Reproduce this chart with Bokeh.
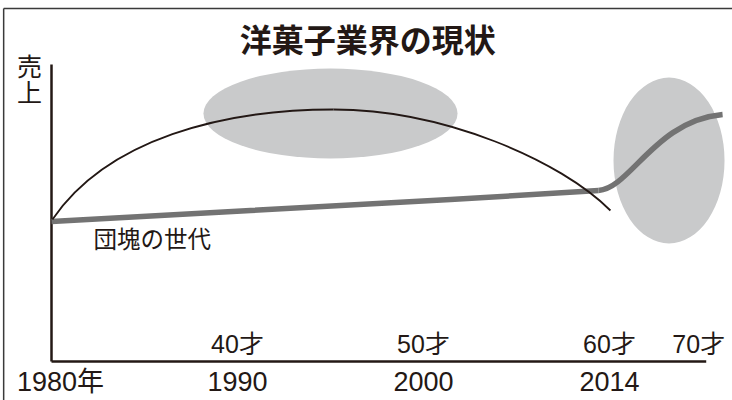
from bokeh.plotting import figure
from bokeh.models import Range1d
from bokeh.core.properties import value
from bokeh.embed import file_html
from bokeh.resources import INLINE

# ---- schematic data (x: timeline position, 1980=0 ... 2014=30; y: sales level) ----
title_text = "洋菓子業界の現状"
y_label_chars = ["売", "上"]

year_labels = ["1980年", "1990", "2000", "2014"]
year_pos = [0, 10, 20, 30]

age_labels = ["40才", "50才", "60才", "70才"]
age_pos = [10, 20, 30, 34.8]

# whole confectionery market (thin arc): two smooth segments, rise to peak then fall
market_start_x = [0.05, 15.16]
market_start_y = [14.2, 25.2]
market_end_x = [15.16, 30.05]
market_end_y = [25.2, 15.1]
market_c0_x = [3.01, 21.08]
market_c0_y = [22.28, 25.2]
market_c1_x = [9.25, 27.37]
market_c1_y = [25.2, 20.1]

# baby-boomer generation (thick gray line): slow growth, then sharp rise after 2014
boomer_x = [0.0, 10.7, 21.45, 29.41]
boomer_y = [14.0, 15.1, 16.2, 17.1]
boomer_rise_x = [29.41, 36.08]
boomer_rise_y = [17.1, 24.7]
boomer_rise_cx = [31.13, 32.47]
boomer_rise_cy = [17.35, 24.1]
boomer_label = "団塊の世代"

# highlighted regions (center x, center y, width, height)
blob_x = [15.0, 33.2]
blob_y = [24.8, 20.1]
blob_w = [13.66, 5.97]
blob_h = [9.0, 16.6]

x_axis_end = 35.2
y_axis_top = 29.7

INK = "#231815"
JP = value("Noto Sans CJK JP")
MIX = value("Liberation Sans, Noto Sans CJK JP")

p = figure(width=732, height=400, output_backend="svg", toolbar_location=None,
           x_range=Range1d(-2.742, 36.613), y_range=Range1d(-3.9, 36.1),
           min_border=0, background_fill_color="white", border_fill_color="white")
p.axis.visible = False
p.grid.visible = False
p.outline_line_color = None

# outer frame (top and left edges of the box)
x0, x1 = p.x_range.start, p.x_range.end
p.line([x0 + 0.17, x1], [35.3, 35.3], line_color="#3a3a3a", line_width=1.5)
p.line([x0 + 0.17, x0 + 0.17], [35.3, -3.9], line_color="#3a3a3a", line_width=1.5)

# shaded regions
p.ellipse(x=blob_x, y=blob_y, width=blob_w, height=blob_h,
          fill_color="#c9cacb", line_color=None)

# axes lines
p.line([0, 0], [0, y_axis_top], line_color=INK, line_width=2.5)
p.line([0, x_axis_end], [0, 0], line_color=INK, line_width=2.5)

# baby-boomer series
p.line(boomer_x, boomer_y, line_color="#737373", line_width=5.5, line_join="round")
p.bezier(x0=[boomer_rise_x[0]], y0=[boomer_rise_y[0]],
         x1=[boomer_rise_x[1]], y1=[boomer_rise_y[1]],
         cx0=[boomer_rise_cx[0]], cy0=[boomer_rise_cy[0]],
         cx1=[boomer_rise_cx[1]], cy1=[boomer_rise_cy[1]],
         line_color="#737373", line_width=5.5)

# market arc
p.bezier(x0=market_start_x, y0=market_start_y, x1=market_end_x, y1=market_end_y,
         cx0=market_c0_x, cy0=market_c0_y, cx1=market_c1_x, cy1=market_c1_y,
         line_color=INK, line_width=1.8)

# texts
p.text(x=[17.0], y=[32.4], text=[title_text], text_font=JP, text_font_style="bold",
       text_font_size="32px", text_align="center", text_baseline="middle", text_color=INK)
p.text(x=[-1.18, -1.18], y=[29.7, 27.1], text=y_label_chars, text_font=JP,
       text_font_size="25px", text_align="center", text_baseline="middle", text_color=INK)
p.text(x=[2.26], y=[12.4], text=[boomer_label], text_font=JP, text_font_size="23.5px",
       text_align="left", text_baseline="middle", text_color=INK)
p.text(x=year_pos, y=[-2.0] * len(year_pos), text=year_labels, text_font=MIX,
       text_font_size="27px", text_align="center", text_baseline="middle",
       x_offset=[9, 0, 0, 0], text_color=INK)
p.text(x=age_pos, y=[1.8] * len(age_pos), text=age_labels, text_font=MIX,
       text_font_size="25px", text_align="center", text_baseline="middle", text_color=INK)

open("out.html", "w").write(file_html(p, INLINE))
